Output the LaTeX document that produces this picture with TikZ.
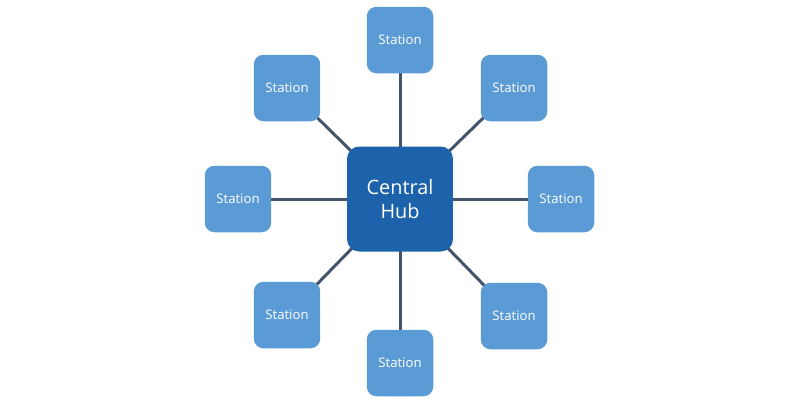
\documentclass[tikz,border=0pt]{standalone}
\usepackage{fontspec}
\setmainfont{Open Sans}
\usetikzlibrary{positioning,backgrounds}
\definecolor{hubblue}{HTML}{1C63AB}
\definecolor{stationblue}{HTML}{5B9BD5}
\definecolor{linkgray}{HTML}{44546A}
\begin{document}
\begin{tikzpicture}[
    x=0.02cm, y=-0.02cm,
    %
    hub/.style={rectangle, rounded corners=7pt, fill=hubblue, text=white,
                minimum width=2.12cm, minimum height=2.1cm, align=center,
                font=\fontsize{11.3}{13.5}\selectfont},
    station/.style={rectangle, rounded corners=5.5pt, fill=stationblue, text=white,
                    minimum size=1.33cm, font=\fontsize{7.5}{9}\selectfont},
    %
    link/.style={draw=linkgray, line width=1.7pt}
    ]
    \useasboundingbox (0,0) rectangle (800,400);

    \node[hub]     (hub)  at (400,199) {Central\\Hub};
    \node[station] (top)  at (400,40)  {Station};
    \node[station] (tl)   at (287,88)  {Station};
    \node[station] (tr)   at (514,88)  {Station};
    \node[station] (left) at (238,199) {Station};
    \node[station] (right) at (561,199) {Station};
    \node[station] (bl)   at (287,315) {Station};
    \node[station] (br)   at (514,316) {Station};
    \node[station] (bot)  at (400,363) {Station};
    %
    \begin{scope}[on background layer]
    \foreach \s in {top,tl,tr,left,right,bl,br,bot}
        \draw[link] (hub.center) -- (\s.center);
    \end{scope}
\end{tikzpicture}
\end{document}
